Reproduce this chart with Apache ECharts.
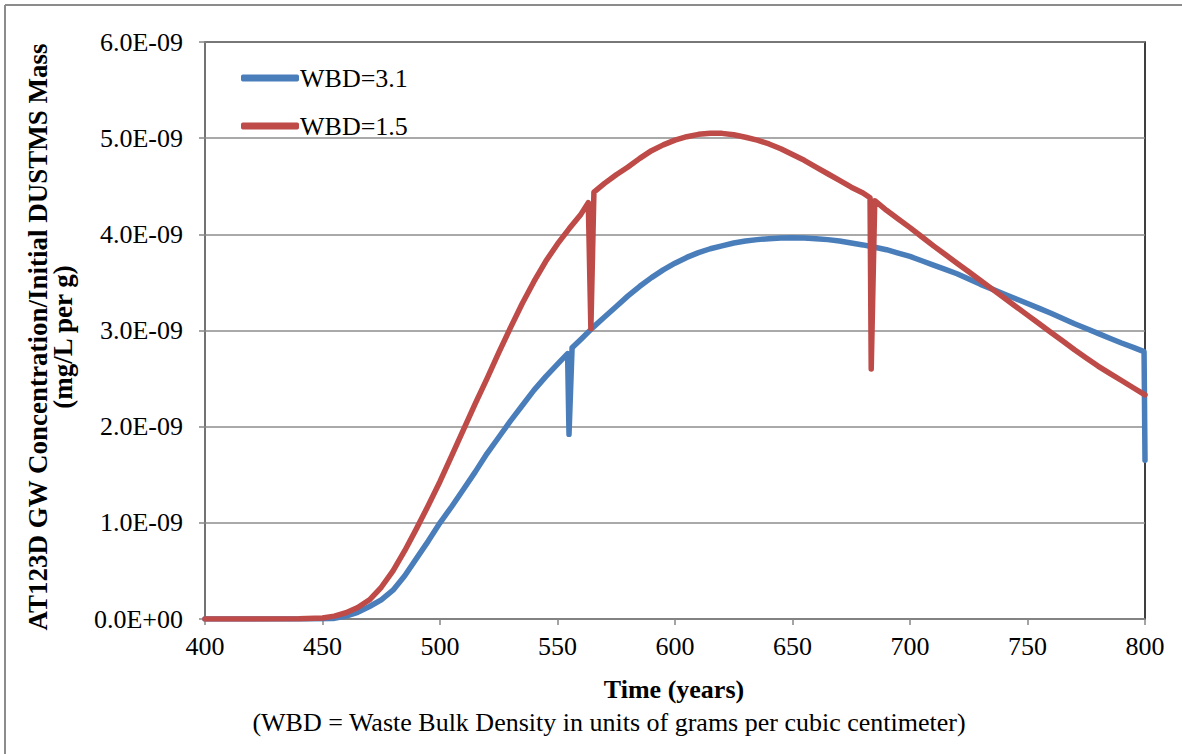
<!DOCTYPE html>
<html>
<head>
<meta charset="utf-8">
<script src="https://cdn.jsdelivr.net/npm/echarts@6/dist/echarts.min.js"></script>
<style>
html,body{margin:0;padding:0;background:#fff;}
#chart{width:1182px;height:754px;}
</style>
</head>
<body>
<div id="chart"></div>
<script>
// ---- data (values in units of 1E-09 mg/L per g) ----
const seriesNames = ['WBD=3.1', 'WBD=1.5'];

const blueYears = [400, 420, 440, 450, 455, 460, 465, 470, 475, 480, 485, 490, 495,
  500, 505, 510, 515, 520, 525, 530, 535, 540, 545, 550, 554.3, 554.9, 556.2,
  560, 565, 570, 575, 580, 585, 590, 595, 600, 605, 610, 615, 620, 625, 630, 635, 640, 645, 650, 655,
  660, 665, 670, 675, 680, 685, 690, 695, 700, 705, 710, 715, 720, 725, 730, 735, 740, 745, 750, 755,
  760, 765, 770, 775, 780, 785, 790, 795, 799.6, 800];
const blueValuesE9 = [0, 0, 0, 0.002, 0.006, 0.03, 0.07, 0.13, 0.2, 0.3, 0.45, 0.63, 0.81,
  1.0, 1.17, 1.35, 1.53, 1.72, 1.89, 2.06, 2.22, 2.38, 2.52, 2.65, 2.76, 1.92, 2.82,
  2.91, 3.03, 3.14, 3.25, 3.36, 3.46, 3.55, 3.63, 3.70, 3.76, 3.81, 3.85, 3.88, 3.91, 3.93, 3.945, 3.955, 3.962, 3.965, 3.962,
  3.955, 3.945, 3.93, 3.91, 3.89, 3.865, 3.84, 3.805, 3.77, 3.725, 3.68, 3.635, 3.59, 3.535, 3.48, 3.43, 3.38, 3.33, 3.28, 3.23,
  3.18, 3.125, 3.07, 3.02, 2.97, 2.92, 2.87, 2.825, 2.78, 1.65];

const redYears = [400, 420, 440, 450, 455, 460, 465, 470, 475, 480, 485, 490, 495,
  500, 505, 510, 515, 520, 525, 530, 535, 540, 545, 550, 555, 560, 563.1, 564.2, 565.5,
  570, 575, 580, 585, 590, 595, 600, 605, 610, 615, 620, 625, 630, 635, 640, 645, 650, 655,
  660, 665, 670, 675, 680, 683, 683.5, 685, 690, 695, 700, 705, 710, 715, 720, 725, 730, 735, 740, 745,
  750, 755, 760, 765, 770, 775, 780, 785, 790, 795, 800];
const redValuesE9 = [0, 0, 0.003, 0.01, 0.03, 0.065, 0.12, 0.2, 0.33, 0.5, 0.71, 0.94, 1.18,
  1.43, 1.7, 1.97, 2.24, 2.5, 2.77, 3.03, 3.28, 3.51, 3.72, 3.9, 4.06, 4.21, 4.33, 3.02, 4.44,
  4.53, 4.62, 4.7, 4.79, 4.87, 4.93, 4.98, 5.015, 5.04, 5.05, 5.05, 5.035, 5.01, 4.98, 4.94, 4.89, 4.83, 4.77,
  4.70, 4.63, 4.56, 4.49, 4.43, 4.38, 2.6, 4.35, 4.25, 4.16, 4.07, 3.975, 3.88, 3.79, 3.70, 3.61, 3.52, 3.43, 3.34, 3.25,
  3.16, 3.07, 2.98, 2.89, 2.80, 2.715, 2.63, 2.555, 2.48, 2.405, 2.33];

const xTickLabels = ['400', '450', '500', '550', '600', '650', '700', '750', '800'];
const yTickLabels = ['0.0E+00', '1.0E-09', '2.0E-09', '3.0E-09', '4.0E-09', '5.0E-09', '6.0E-09'];

const yAxisTitle = ['AT123D GW Concentration/Initial DUSTMS Mass', '(mg/L per g)'];
const xAxisTitle = 'Time (years)';
const caption = '(WBD = Waste Bulk Density in units of grams per cubic centimeter)';

// ---- build ----
const toPairs = (xs, ys) => xs.map((x, i) => [x, ys[i] * 1e-9]);
const FONT = 'Liberation Serif, serif';
const colors = ['#4a7ebb', '#be4b48'];

const chart = echarts.init(document.getElementById('chart'), null, {renderer: 'svg'});
chart.setOption({
  animation: false,
  backgroundColor: '#fff',
  color: colors,
  grid: {left: 205, right: 37, top: 42, bottom: 135, show: true, borderColor: '#000', borderWidth: 1.5, containLabel: false},
  legend: {
    orient: 'vertical', left: 236, top: 60, itemWidth: 58, itemHeight: 7, itemGap: 22,
    icon: 'roundRect',
    textStyle: {fontFamily: FONT, fontSize: 26, color: '#000', padding: [0, 0, 0, -4]},
    data: seriesNames
  },
  xAxis: {
    type: 'value', min: 400, max: 800, interval: 50,
    axisLine: {show: true, lineStyle: {color: '#868686', width: 1.5}},
    axisTick: {show: true, length: 6, lineStyle: {color: '#868686', width: 1.5}},
    splitLine: {show: false},
    axisLabel: {
      fontFamily: FONT, fontSize: 26, color: '#000', margin: 14,
      formatter: v => xTickLabels[Math.round((v - 400) / 50)]
    }
  },
  yAxis: {
    type: 'value', min: 0, max: 6e-9, interval: 1e-9,
    axisLine: {show: true, lineStyle: {color: '#868686', width: 1.5}},
    axisTick: {show: true, length: 6, lineStyle: {color: '#868686', width: 1.5}},
    splitLine: {show: true, lineStyle: {color: '#8c8c8c', width: 1.5}},
    axisLabel: {
      fontFamily: FONT, fontSize: 26, color: '#000', margin: 22,
      formatter: v => yTickLabels[Math.round(v / 1e-9)]
    }
  },
  graphic: [
    {type: 'line', silent: true, shape: {x1: 5, y1: 5, x2: 1182, y2: 5}, style: {stroke: '#8c8c8c', lineWidth: 2}},
    {type: 'line', silent: true, shape: {x1: 5, y1: 5, x2: 5, y2: 754}, style: {stroke: '#8c8c8c', lineWidth: 2}},
    {type: 'text', x: 38, y: 337, rotation: Math.PI / 2,
     style: {text: yAxisTitle[0], font: 'bold 27px Liberation Serif, serif', fill: '#000', textAlign: 'center', textVerticalAlign: 'middle'}},
    {type: 'text', x: 63, y: 337, rotation: Math.PI / 2,
     style: {text: yAxisTitle[1], font: 'bold 27px Liberation Serif, serif', fill: '#000', textAlign: 'center', textVerticalAlign: 'middle'}},
    {type: 'text', x: 674, y: 689,
     style: {text: xAxisTitle, font: 'bold 26px Liberation Serif, serif', fill: '#000', textAlign: 'center', textVerticalAlign: 'middle'}},
    {type: 'text', x: 609, y: 722,
     style: {text: caption, font: '26px Liberation Serif, serif', fill: '#000', textAlign: 'center', textVerticalAlign: 'middle'}}
  ],
  series: [
    {name: seriesNames[0], type: 'line', showSymbol: false, symbol: 'none', z: 2, smooth: false,
     lineStyle: {width: 5.5, color: colors[0], join: 'round', cap: 'round'},
     data: toPairs(blueYears, blueValuesE9)},
    {name: seriesNames[1], type: 'line', showSymbol: false, symbol: 'none', z: 3, smooth: false,
     lineStyle: {width: 5.5, color: colors[1], join: 'round', cap: 'round'},
     data: toPairs(redYears, redValuesE9)}
  ]
});
</script>
</body>
</html>
